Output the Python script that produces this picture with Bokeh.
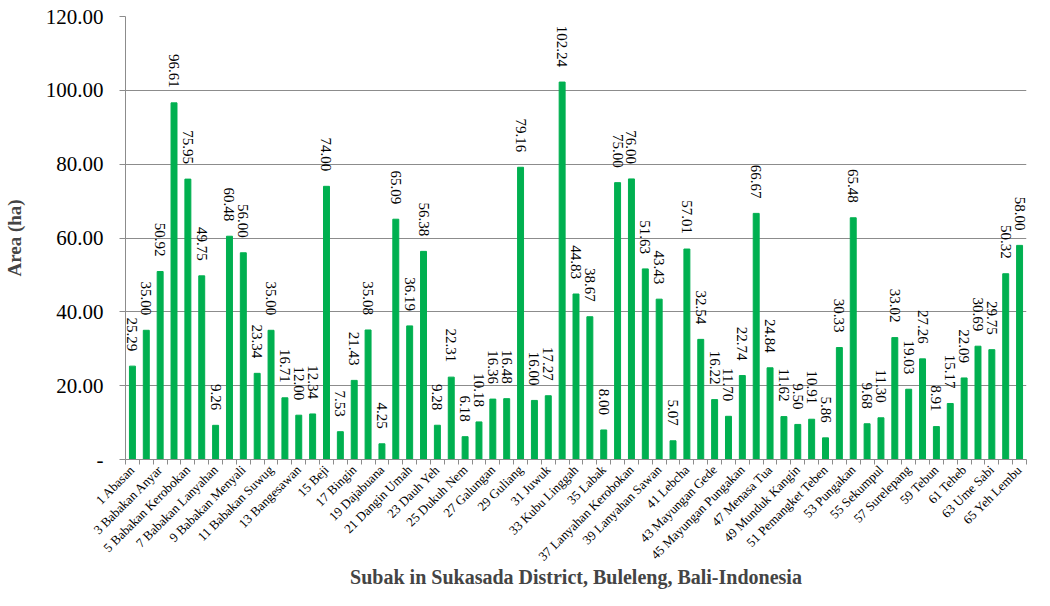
import math
from bokeh.plotting import figure
from bokeh.models import ColumnDataSource, FixedTicker, NumeralTickFormatter, Range1d
from bokeh.core.properties import value
from bokeh.embed import file_html
from bokeh.resources import INLINE

# Area (ha) of each subak, numbered 1..65
areas = [25.29, 35.00, 50.92, 96.61, 75.95, 49.75, 9.26, 60.48, 56.00, 23.34,
         35.00, 16.71, 12.00, 12.34, 74.00, 7.53, 21.43, 35.08, 4.25, 65.09,
         36.19, 56.38, 9.28, 22.31, 6.18, 10.18, 16.36, 16.48, 79.16, 16.00,
         17.27, 102.24, 44.83, 38.67, 8.00, 75.00, 76.00, 51.63, 43.43, 5.07,
         57.01, 32.54, 16.22, 11.70, 22.74, 66.67, 24.84, 11.62, 9.50, 10.91,
         5.86, 30.33, 65.48, 9.68, 11.30, 33.02, 19.03, 27.26, 8.91, 15.17,
         22.09, 30.69, 29.75, 50.32, 58.00]

# Tick labels shown on the axis (odd-numbered subaks only)
tick_labels = ["1 Abasan", "3 Babakan Anyar", "5 Babakan Kerobokan", "7 Babakan Lanyahan",
               "9 Babakan Menyali", "11 Babakan Suwug", "13 Bangesawan", "15 Beji",
               "17 Bingin", "19 Dajabuana", "21 Dangin Umah", "23 Dauh Yeh",
               "25 Dukuh Nem", "27 Galungan", "29 Guliang", "31 Juwuk",
               "33 Kubu Linggah", "35 Labak", "37 Lanyahan Kerobokan", "39 Lanyahan Sawan",
               "41 Lebcha", "43 Mayungan Gede", "45 Mayungan Pungakan", "47 Menasa Tua",
               "49 Munduk Kangin", "51 Pemangket Teben", "53 Pungakan", "55 Sekumpul",
               "57 Surelepang", "59 Tebun", "61 Teheb", "63 Ume Sabi", "65 Yeh Lembu"]

y_ticks = [0, 20, 40, 60, 80, 100, 120]

n = len(areas)
xs = list(range(1, n + 1))
tick_pos = [int(t.split(" ")[0]) for t in tick_labels]

src = ColumnDataSource(dict(x=xs, y=areas, lab=["%.2f" % v for v in areas]))

FONT = "Liberation Serif"
GREEN = "#00B050"
GRAY = "#8C8C8C"

p = figure(width=1034, height=590, output_backend="svg", toolbar_location=None,
           x_range=Range1d(0.5, n + 0.5), y_range=Range1d(0, 120))
p.min_border_left = 10
p.min_border_right = 8
p.min_border_top = 16
p.min_border_bottom = 0
p.outline_line_color = None
p.background_fill_color = "white"

p.vbar(x="x", top="y", width=0.43, source=src, color=GREEN)
p.text(x="x", y="y", text="lab", source=src, angle=-math.pi / 2,
       text_align="right", text_baseline="middle", y_offset=-15,
       text_font=value(FONT), text_font_size="15px", text_color="black")

# Y axis
p.yaxis.ticker = FixedTicker(ticks=y_ticks)
p.yaxis.formatter = NumeralTickFormatter(format="0.00")
p.yaxis.major_label_overrides = {0: "-"}
p.yaxis.major_label_text_font = FONT
p.yaxis.major_label_text_font_size = "21px"
p.yaxis.major_label_text_color = "black"
p.yaxis.major_label_standoff = 16
p.yaxis.axis_line_color = GRAY
p.yaxis.major_tick_line_color = GRAY
p.yaxis.major_tick_out = 6
p.yaxis.major_tick_in = 0
p.yaxis.minor_tick_line_color = None
p.yaxis.axis_label = "Area (ha)"
p.yaxis.axis_label_text_font = FONT
p.yaxis.axis_label_text_font_style = "bold"
p.yaxis.axis_label_text_font_size = "19px"
p.yaxis.axis_label_standoff = 18

# X axis
p.xaxis.ticker = FixedTicker(ticks=tick_pos, minor_ticks=[x - 0.5 for x in xs] + [n + 0.5])
p.xaxis.major_label_overrides = {t: lab for t, lab in zip(tick_pos, tick_labels)}
p.xaxis.major_label_orientation = math.pi / 4
p.xaxis.major_label_text_font = FONT
p.xaxis.major_label_text_font_size = "13px"
p.xaxis.major_label_text_color = "black"
p.xaxis.major_label_standoff = 3
p.xaxis.major_tick_line_color = None
p.xaxis.major_tick_out = 0
p.xaxis.major_tick_in = 0
p.xaxis.minor_tick_line_color = GRAY
p.xaxis.minor_tick_out = 5
p.xaxis.minor_tick_in = 0
p.xaxis.axis_line_color = GRAY
p.xaxis.axis_label = "Subak in Sukasada District, Buleleng, Bali-Indonesia"
p.xaxis.axis_label_text_font = FONT
p.xaxis.axis_label_text_font_style = "bold"
p.xaxis.axis_label_text_font_size = "20px"
p.xaxis.axis_label_standoff = -6

p.xgrid.grid_line_color = None
p.ygrid.ticker = FixedTicker(ticks=y_ticks)
p.ygrid.grid_line_color = GRAY
p.ygrid.grid_line_width = 1

open("out.html", "w").write(file_html(p, INLINE))
